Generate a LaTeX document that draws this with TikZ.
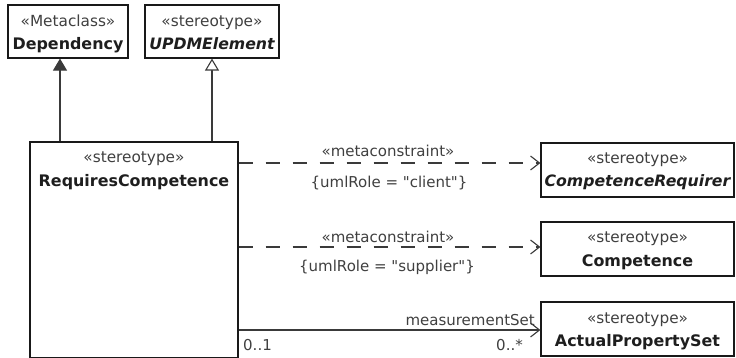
\documentclass[tikz,border=0pt]{standalone}
\usepackage{fontspec}
\setmainfont{DejaVu Sans}[Ligatures=TeXOff]
\usetikzlibrary{arrows.meta}
\definecolor{ln}{HTML}{3A3A3A}
\definecolor{tx}{HTML}{1E1E1E}
\definecolor{st}{HTML}{404040}
\begin{document}
\begin{tikzpicture}[x=1pt,y=-1pt,
  cls/.style={draw=black!90, line width=1.2pt, fill=white, inner sep=0pt, rectangle},
  sttext/.style={font=\fontsize{15.3}{17}\selectfont, text=st, inner sep=0pt, anchor=base},
  nmtext/.style={font=\fontsize{15.9}{17}\selectfont\bfseries, text=tx, inner sep=0pt, anchor=base},
  itext/.style={nmtext, font=\fontsize{15.7}{17}\selectfont\bfseries\itshape},
  lbl/.style={font=\fontsize{15}{16}\selectfont, text=st, inner sep=0pt, anchor=base},
  conn/.style={draw=ln, line width=1.1pt},
  extarrow/.style={conn, -{Triangle[width=14pt,length=12pt]}},
  genarrow/.style={conn, -{Triangle[open,width=14pt,length=12pt,fill=white]}},
  deparrow/.style={conn, dash pattern=on 14pt off 13pt, -{Straight Barb[length=9pt,width=14pt,line width=1.1pt]}},
  assocarrow/.style={conn, -{Straight Barb[length=9pt,width=14pt,line width=1.1pt]}}
]
\fill[white] (0,0) rectangle (736,358);
\useasboundingbox (0,0) rectangle (736,358);

% classes
\node[cls, minimum width=120pt, minimum height=53pt] (dep) at (68,31.5) {};
\node[sttext] (depS) at (68,26.5) {«Metaclass»};
\node[nmtext] (depN) at (68,49.5) {Dependency};

\node[cls, minimum width=134pt, minimum height=53pt] (updm) at (212,31.5) {};
\node[sttext] (updmS) at (212,26.5) {«stereotype»};
\node[itext] (updmN) at (212,49.5) {UPDMElement};

\node[cls, minimum width=208pt, minimum height=216pt] (rc) at (134,250) {};
\node[sttext] (rcS) at (134,163) {«stereotype»};
\node[nmtext] (rcN) at (134,186.5) {RequiresCompetence};

\node[cls, minimum width=193pt, minimum height=54pt] (cr) at (637.5,170) {};
\node[sttext] (crS) at (637.5,164) {«stereotype»};
\node[itext] (crN) at (637.5,187) {CompetenceRequirer};

\node[cls, minimum width=193pt, minimum height=54pt] (comp) at (637.5,249) {};
\node[sttext] (compS) at (637.5,243) {«stereotype»};
\node[nmtext] (compN) at (637.5,266) {Competence};

\node[cls, minimum width=193pt, minimum height=54pt] (aps) at (637.5,329) {};
\node[sttext] (apsS) at (637.5,323) {«stereotype»};
\node[nmtext] (apsN) at (637.5,346) {ActualPropertySet};

% helper coordinates
\coordinate (depx) at (60,0);
\coordinate (a1) at (0,163);
\coordinate (a2) at (0,247);
\coordinate (a3) at (0,330);

% connectors
\draw[extarrow] (rc.north -| depx) -- (dep.south -| depx);
\draw[genarrow] (rc.north -| updm.south) -- (updm.south);
\draw[deparrow] (rc.east |- a1) -- (cr.west |- a1);
\draw[deparrow] (rc.east |- a2) -- (comp.west |- a2);
\draw[assocarrow] (rc.east |- a3) -- (aps.west |- a3);

% labels
\node[lbl] (m1) at (388,157) {«metaconstraint»};
\node[lbl] (c1) at (389,188) {\{umlRole = "client"\}};
\node[lbl] (m2) at (388,242) {«metaconstraint»};
\node[lbl] (c2) at (387,271) {\{umlRole = "supplier"\}};
\node[lbl, anchor=base east] (ms) at (535,325) {measurementSet};
\node[lbl, anchor=base west] (z1) at (243,350) {0..1};
\node[lbl, anchor=base east] (z2) at (523,350) {0..*};
\end{tikzpicture}
\end{document}
